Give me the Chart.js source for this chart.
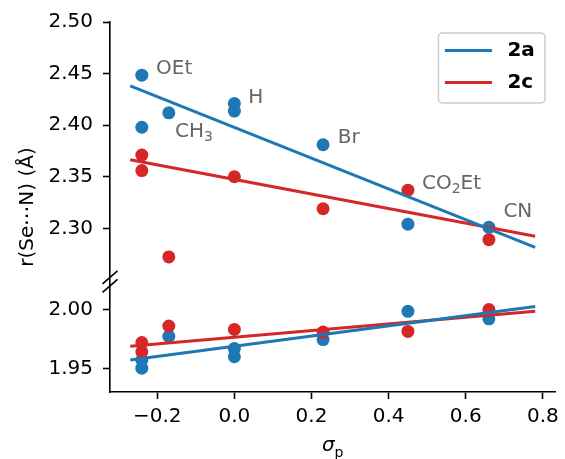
<!DOCTYPE html>
<html>
<head>
<meta charset="utf-8">
<script src="https://cdn.jsdelivr.net/npm/chart.js@4.4.0/dist/chart.umd.min.js"></script>
<style>
  body { margin: 0; background: #fff; }
  canvas { display: block; }
</style>
</head>
<body>
<canvas id="myChart" width="565" height="459"></canvas>
<script>
// sigma_p values and r(Se...N)
const sigmaTop2a = [-0.24, -0.24, -0.17, 0.0, 0.0, 0.23, 0.45, 0.66];
const rTop2a = [2.4485, 2.398, 2.412, 2.421, 2.4137, 2.381, 2.304, 2.301];
const sigmaTop2c = [-0.24, -0.24, -0.17, 0.0, 0.23, 0.45, 0.66];
const rTop2c = [2.371, 2.356, 2.2723, 2.350, 2.319, 2.337, 2.289];

const sigmaBot2a = [-0.24, -0.24, -0.17, 0.0, 0.0, 0.23, 0.45, 0.66];
const rBot2a = [1.9506, 1.9575, 1.9776, 1.9673, 1.9603, 1.9749, 1.9988, 1.9925];
const sigmaBot2c = [-0.24, -0.24, -0.17, 0.0, 0.23, 0.45, 0.66];
const rBot2c = [1.9724, 1.9645, 1.9863, 1.9835, 1.9812, 1.9818, 2.0003];

// fitted lines (end points)
const fitX = [-0.27, 0.78];
const fitTop2a = [2.438, 2.2816];
const fitTop2c = [2.3664, 2.2923];
const fitBot2a = [1.9575, 2.003];
const fitBot2c = [1.9693, 1.9988];

// substituent labels (text left / middle, in data units)
const subLabels = ['OEt', 'H', 'CH_3', 'Br', 'CO_2Et', 'CN'];
const subLabelX = [-0.203, 0.036, -0.154, 0.268, 0.4865, 0.6976];
const subLabelY = [2.4546, 2.4266, 2.3937, 2.3879, 2.3435, 2.3164];

const seriesNames = ['2a', '2c'];
const BLUE = '#1f77b4';
const RED = '#d62728';
const FONT = 'DejaVu Sans';

function toPoints(xs, ys) {
  return xs.map((x, i) => ({ x: x, y: ys[i] }));
}

function fitSet(label, ys, color, axis) {
  return {
    label: label,
    data: toPoints(fitX, ys),
    yAxisID: axis,
    showLine: true,
    borderColor: color,
    borderWidth: 3,
    pointRadius: 0,
    fill: false
  };
}

function dotSet(label, xs, ys, color, axis) {
  return {
    label: label,
    data: toPoints(xs, ys),
    yAxisID: axis,
    backgroundColor: color,
    borderWidth: 0,
    pointRadius: 6.5
  };
}

// draws "CO_2Et" style text, _ makes the next char a subscript
function drawRich(ctx, text, x, y, size) {
  let cx = x;
  let i = 0;
  while (i < text.length) {
    if (text[i] === '_') {
      const c = text[i + 1];
      ctx.font = (size * 0.7) + 'px "' + FONT + '"';
      ctx.fillText(c, cx, y + size * 0.3);
      cx += ctx.measureText(c).width;
      i += 2;
    } else {
      let run = '';
      while (i < text.length && text[i] !== '_') { run += text[i]; i++; }
      ctx.font = size + 'px "' + FONT + '"';
      ctx.fillText(run, cx, y);
      cx += ctx.measureText(run).width;
    }
  }
}

const extras = {
  id: 'extras',
  afterDraw(chart) {
    const ctx = chart.ctx;
    const xs = chart.scales.x;
    const yt = chart.scales.yTop;
    const yb = chart.scales.yBot;
    const area = chart.chartArea;
    ctx.save();

    // substituent labels
    ctx.fillStyle = '#666666';
    ctx.textBaseline = 'middle';
    ctx.textAlign = 'left';
    subLabels.forEach((t, i) => {
      drawRich(ctx, t, xs.getPixelForValue(subLabelX[i]), yt.getPixelForValue(subLabelY[i]), 20);
    });

    // axis break marks
    ctx.strokeStyle = '#000';
    ctx.lineWidth = 1.6;
    const bx = yt.right;
    [yt.bottom, yb.top].forEach((by) => {
      ctx.beginPath();
      ctx.moveTo(bx - 7.5, by + 6.5);
      ctx.lineTo(bx + 7.5, by - 6.5);
      ctx.stroke();
    });

    // y title
    ctx.fillStyle = '#000';
    ctx.textAlign = 'center';
    ctx.textBaseline = 'middle';
    ctx.font = '20px "' + FONT + '"';
    ctx.save();
    ctx.translate(28, (area.top + area.bottom) / 2);
    ctx.rotate(-Math.PI / 2);
    ctx.fillText('r(Se\u22efN) (\u00c5)', 0, 0);
    ctx.restore();

    // x title: sigma_p
    const cx = (area.left + area.right) / 2;
    ctx.textAlign = 'left';
    ctx.font = 'italic 20px "' + FONT + '"';
    const sw = ctx.measureText('\u03c3').width;
    ctx.font = '14px "' + FONT + '"';
    const pw = ctx.measureText('p').width;
    const sx = cx - (sw + pw) / 2;
    ctx.font = 'italic 20px "' + FONT + '"';
    ctx.fillText('\u03c3', sx, 446);
    ctx.font = '14px "' + FONT + '"';
    ctx.fillText('p', sx + sw, 453);

    // legend
    const lx = area.right - 117;
    const ly = area.top + 11;
    const lw = 106.5;
    const lh = 70;
    ctx.beginPath();
    ctx.roundRect(lx, ly, lw, lh, 4);
    ctx.fillStyle = 'rgba(255,255,255,0.8)';
    ctx.fill();
    ctx.strokeStyle = '#cccccc';
    ctx.lineWidth = 1.5;
    ctx.stroke();
    [BLUE, RED].forEach((col, i) => {
      const yy = ly + 17.5 + i * 32;
      ctx.strokeStyle = col;
      ctx.lineWidth = 3;
      ctx.beginPath();
      ctx.moveTo(lx + 6.5, yy);
      ctx.lineTo(lx + 53.5, yy);
      ctx.stroke();
      ctx.fillStyle = '#000';
      ctx.font = 'bold 20px "' + FONT + '"';
      ctx.textBaseline = 'middle';
      ctx.fillText(seriesNames[i], lx + 69, yy);
    });

    ctx.restore();
  }
};

function tickStyle(digits, pad) {
  return {
    stepSize: 0.05,
    includeBounds: false,
    color: '#000',
    padding: pad,
    font: { family: FONT, size: 20 },
    callback: (v) => Number(v).toFixed(digits).replace('-', '\u2212')
  };
}

const gridStyle = {
  drawOnChartArea: false,
  drawTicks: true,
  tickLength: 7,
  tickWidth: 1.6,
  tickColor: '#000',
  color: '#000'
};

const borderStyle = { color: '#000', width: 1.6 };

const config = {
  type: 'scatter',
  data: {
    datasets: [
      fitSet(seriesNames[0], fitTop2a, BLUE, 'yTop'),
      fitSet(seriesNames[0], fitBot2a, BLUE, 'yBot'),
      fitSet(seriesNames[1], fitTop2c, RED, 'yTop'),
      fitSet(seriesNames[1], fitBot2c, RED, 'yBot'),
      dotSet(seriesNames[1], sigmaTop2c, rTop2c, RED, 'yTop'),
      dotSet(seriesNames[1], sigmaBot2c, rBot2c, RED, 'yBot'),
      dotSet(seriesNames[0], sigmaTop2a, rTop2a, BLUE, 'yTop'),
      dotSet(seriesNames[0], sigmaBot2a, rBot2a, BLUE, 'yBot')
    ]
  },
  options: {
    responsive: false,
    animation: false,
    events: [],
    layout: { padding: { top: 20, right: 7, bottom: 0, left: 0 } },
    plugins: {
      legend: { display: false },
      tooltip: { enabled: false }
    },
    scales: {
      x: {
        type: 'linear',
        position: 'bottom',
        min: -0.3225,
        max: 0.8325,
        ticks: Object.assign(tickStyle(1, 6), { stepSize: 0.2 }),
        grid: gridStyle,
        border: borderStyle,
        afterFit: (s) => { s.height = 67; }
      },
      yTop: {
        type: 'linear',
        position: 'left',
        stack: 'r',
        stackWeight: 256.5,
        weight: 2,
        min: 2.2525,
        max: 2.50,
        ticks: tickStyle(2, 10),
        grid: gridStyle,
        border: borderStyle,
        afterFit: (s) => { s.width = 110; }
      },
      yGap: {
        type: 'linear',
        position: 'left',
        stack: 'r',
        stackWeight: 8.5,
        weight: 1,
        min: 0,
        max: 1,
        ticks: { display: false },
        grid: { display: false },
        border: borderStyle,
        afterFit: (s) => { s.width = 110; }
      },
      yBot: {
        type: 'linear',
        position: 'left',
        stack: 'r',
        stackWeight: 106.7,
        weight: 0,
        min: 1.9304,
        max: 2.0205,
        ticks: tickStyle(2, 10),
        grid: gridStyle,
        border: borderStyle,
        afterFit: (s) => { s.width = 110; }
      }
    }
  },
  plugins: [extras]
};

new Chart(document.getElementById('myChart'), config);
</script>
</body>
</html>
